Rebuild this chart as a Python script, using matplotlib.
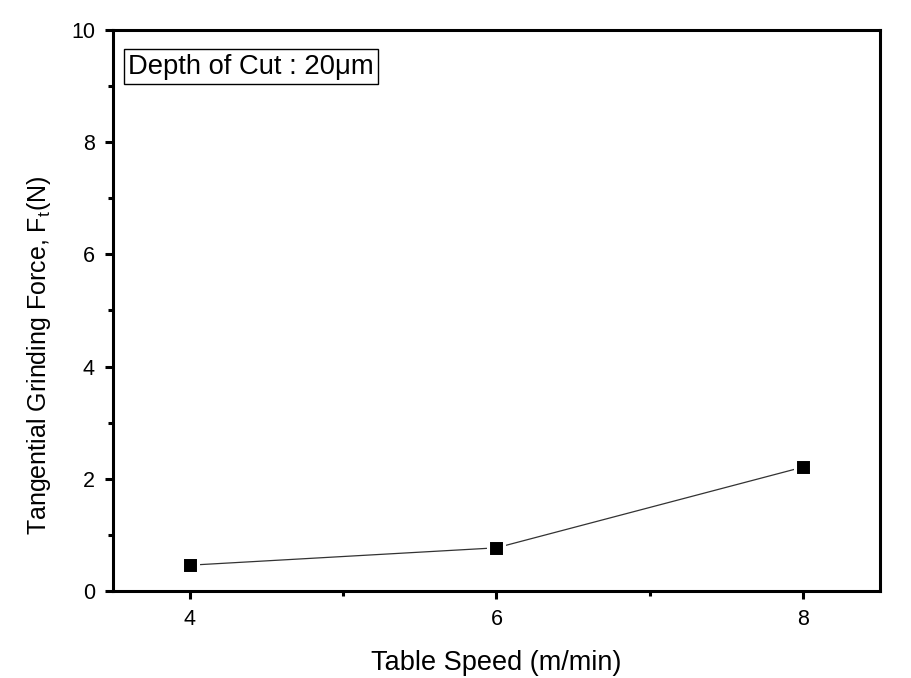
import matplotlib
matplotlib.use("Agg")
import matplotlib.pyplot as plt
from matplotlib.ticker import MultipleLocator

plt.rcParams['font.family'] = ['Liberation Sans', 'DejaVu Sans']

table_speed = [4, 6, 8]
force = [0.46, 0.77, 2.21]

fig = plt.figure(figsize=(9.12, 6.78), dpi=100)
ax = fig.add_axes([0.1239, 0.1283, 0.8410, 0.8275])

ax.plot(table_speed, force, color='#333333', lw=0.9, marker='s', ms=11.2,
        mfc='black', mec='white', mew=2.2, zorder=3)

ax.set_xlim(3.5, 8.5)
ax.set_ylim(0, 10)
ax.xaxis.set_major_locator(MultipleLocator(2))
ax.xaxis.set_minor_locator(MultipleLocator(1))
ax.yaxis.set_major_locator(MultipleLocator(2))
ax.yaxis.set_minor_locator(MultipleLocator(1))

for s in ax.spines.values():
    s.set_linewidth(2.2)
ax.tick_params(which='major', direction='out', length=6, width=2.2, labelsize=15.5, pad=7)
ax.tick_params(which='minor', direction='out', length=3.5, width=2.2)
ax.tick_params(top=False, right=False, which='both')

ax.set_xlabel('Table Speed (m/min)', fontsize=19.5, labelpad=14)
ax.set_ylabel('Tangential Grinding Force, F$_\\mathregular{t}$(N)', fontsize=18)
ax.yaxis.set_label_coords(-0.078, 0.42)

ax.text(0.020, 0.958, 'Depth of Cut : 20\u03bcm', transform=ax.transAxes,
        fontsize=19.7, va='top', ha='left',
        bbox=dict(boxstyle='square,pad=0.15', fc='white', ec='black', lw=1))

fig.savefig('out.png', dpi=100)
